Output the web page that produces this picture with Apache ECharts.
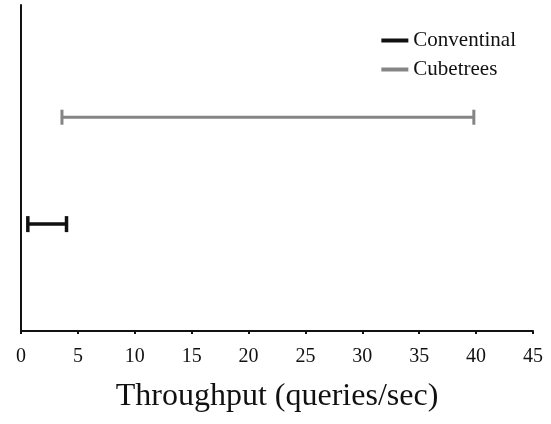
<!DOCTYPE html>
<html><head><meta charset="utf-8">
<script src="https://cdn.jsdelivr.net/npm/echarts@6/dist/echarts.min.js"></script>
<style>html,body{margin:0;padding:0;background:#fff}#c{width:551px;height:424px}</style>
</head><body><div id="c"></div>
<script>
var seriesNames = ['Conventinal', 'Cubetrees'];
var rowPos = [1, 2];
var lowValues = [0.6, 3.6];
var highValues = [4.0, 39.8];
var xTicks = [0, 5, 10, 15, 20, 25, 30, 35, 40, 45];
var xTitle = 'Throughput (queries/sec)';

var styles = [
  {color: '#111', width: 3.5, cap: 8, capW: 3.5},
  {color: '#858585', width: 3, cap: 7.5, capW: 3}
];

function makeSeries(i) {
  return {
    name: seriesNames[i],
    type: 'custom',
    data: [[lowValues[i], highValues[i], rowPos[i]]],
    renderItem: function (params, api) {
      var a = api.coord([api.value(0), api.value(2)]);
      var b = api.coord([api.value(1), api.value(2)]);
      var s = styles[i];
      var st = {stroke: s.color, lineWidth: s.width};
      var cs = {stroke: s.color, lineWidth: s.capW};
      return {type: 'group', children: [
        {type: 'line', shape: {x1: a[0], y1: a[1], x2: b[0], y2: b[1]}, style: st},
        {type: 'line', shape: {x1: a[0], y1: a[1] - s.cap, x2: a[0], y2: a[1] + s.cap}, style: cs},
        {type: 'line', shape: {x1: b[0], y1: b[1] - s.cap, x2: b[0], y2: b[1] + s.cap}, style: cs}
      ]};
    },
    encode: {x: [0, 1], y: 2}
  };
}

var chart = echarts.init(document.getElementById('c'), null, {renderer: 'canvas'});
chart.setOption({
  animation: false,
  textStyle: {fontFamily: 'Liberation Serif'},
  grid: {left: 21, right: 18, top: 5, bottom: 93},
  legend: {
    right: 30, top: 25, orient: 'vertical', itemGap: 8,
    itemWidth: 27, itemHeight: 4, icon: 'rect',
    textStyle: {fontFamily: 'Liberation Serif', fontSize: 21, color: '#111'},
    data: [
      {name: seriesNames[0], itemStyle: {color: '#111'}},
      {name: seriesNames[1], itemStyle: {color: '#858585'}}
    ]
  },
  xAxis: {
    type: 'value', min: xTicks[0], max: xTicks[xTicks.length - 1], interval: 5,
    splitLine: {show: false},
    axisLine: {lineStyle: {color: '#111', width: 2}},
    axisTick: {show: true, length: 3, lineStyle: {color: '#111', width: 2}},
    axisLabel: {fontSize: 20, color: '#111', margin: 16, fontFamily: 'Liberation Serif'},
    name: xTitle, nameLocation: 'middle', nameGap: 50,
    nameTextStyle: {fontSize: 32, color: '#111', fontFamily: 'Liberation Serif'}
  },
  yAxis: {
    type: 'value', min: 0, max: 3.05,
    splitLine: {show: false},
    axisLine: {show: true, lineStyle: {color: '#111', width: 2}},
    axisTick: {show: false},
    axisLabel: {show: false}
  },
  series: [makeSeries(0), makeSeries(1)]
});
</script>
</body></html>
